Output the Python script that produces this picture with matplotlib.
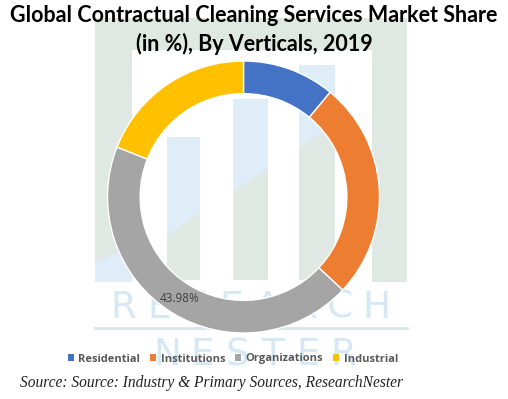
import numpy as np
import matplotlib
matplotlib.use("Agg")
import matplotlib.pyplot as plt
from matplotlib.patches import Rectangle, Polygon, Patch

# data
labels = ["Residential", "Institutions", "Organizations", "Industrial"]
shares = [11.0, 26.0, 43.98, 19.02]
colors = ["#4472C4", "#ED7D31", "#A5A5A5", "#FFC000"]
shown_label = "43.98%"

title = "Global Contractual Cleaning Services Market Share\n(in %), By Verticals, 2019"
source = "Source: Source: Industry & Primary Sources, ResearchNester"

W, H = 508, 399
fig = plt.figure(figsize=(W / 100, H / 100), dpi=100)

# background watermark logo, in pixel coords (y down)
bg = fig.add_axes([0, 0, 1, 1], zorder=0)
bg.set_xlim(0, W)
bg.set_ylim(H, 0)
bg.axis("off")
green = "#dfe8e2"
lblue = "#deedf7"

bg.add_patch(Rectangle((95, 18), 312, 264, color=green, lw=0))
bg.add_patch(Rectangle((132, 50), 240, 232, color="white", lw=0))
# light blue corner of left column
bg.add_patch(Polygon([(95, 262), (132, 247), (132, 282), (95, 282)], color=lblue, lw=0))
# bars: blue above diagonal, green below
def diag(x):
    return 235 - 0.662 * (x - 167)
for x0, x1, top in [(167, 200, 137), (233, 268, 99), (299, 335, 65)]:
    bg.add_patch(Rectangle((x0, top), x1 - x0, 280 - top, color=lblue, lw=0))
    bg.add_patch(Polygon([(x0, diag(x0)), (x1, diag(x1)), (x1, 280), (x0, 280)], color=green, lw=0))

for i, ch in enumerate("RESEARCH"):
    bg.text(123 + 36.2 * i, 308, ch, ha="center", va="center", fontsize=27,
            color="#d5e8f4", family="DejaVu Sans")
bg.plot([95, 407], [328, 328], color="#d8e5ea", lw=2)
for i, ch in enumerate("NESTER"):
    bg.text(167 + 35.2 * i, 355, ch, ha="center", va="center", fontsize=27,
            color="#d5e8f4", family="DejaVu Sans")

# donut
cx, cy, r = 243.5, 197, 136
ax = fig.add_axes([(cx - r) / W, (H - cy - r) / H, 2 * r / W, 2 * r / H], zorder=1)
ax.patch.set_alpha(0)
ax.pie(shares, colors=colors, startangle=90, counterclock=False, radius=1,
       wedgeprops=dict(width=0.24, edgecolor="white", linewidth=1))
ax.set_xlim(-1, 1)
ax.set_ylim(-1, 1)
ax.set_aspect("equal")
ax.text(-0.467, -0.75, shown_label, ha="center", va="center", fontsize=8.5,
        color="#404040", family="Open Sans")

fig.text(0.5, 1 - 5 / H, title, ha="center", va="top", fontsize=15.5,
         fontweight="bold", family="Lato", linespacing=1.38, zorder=3)

handles = [Patch(facecolor=c, edgecolor="none") for c in colors]
fig.legend(handles, labels, loc="center", bbox_to_anchor=(233 / W, 1 - 359 / H), ncol=4,
           frameon=False, handlelength=0.55, handleheight=0.55, handletextpad=0.4,
           columnspacing=0.9, prop=dict(family="Open Sans", size=8, weight="bold"),
           labelcolor="#595959")

fig.text(20 / W, 1 - 383 / H, source, ha="left", va="center", fontsize=11.2,
         style="italic", family="Liberation Serif", color="#222222")

fig.savefig("out.png", dpi=100)
